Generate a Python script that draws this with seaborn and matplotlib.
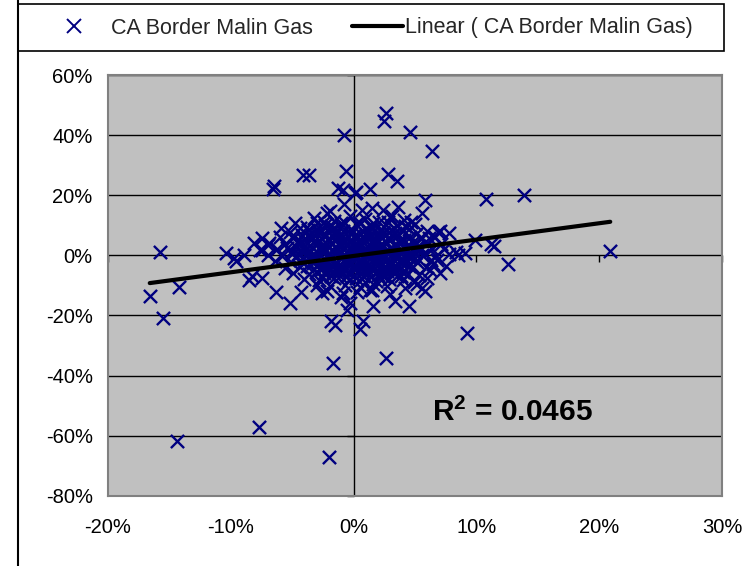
import numpy as np
import pandas as pd
import seaborn as sns
import matplotlib.pyplot as plt
import matplotlib.markers as mmarkers
from matplotlib.lines import Line2D
from matplotlib.patches import Rectangle
from matplotlib.ticker import PercentFormatter

# ---- data (percent units) ----
# scattered observations away from the main cloud
outer_x = [-16.6, -15.8, -15.5, -14.2, -14.4, -7.7, -2.0, -1.7, 2.6, 9.2,
           20.9, 13.9, 10.8, 12.6, 11.4, 11.2, 9.9, 9.1, 8.5, 7.8,
           6.9, 2.6, 2.5, 4.6, 6.4, -0.8, -0.6, 2.8, 3.5, -6.5,
           -6.6, -4.1, -3.6, -1.25, -0.9, 0.1, 1.3, 5.8, -0.8, -1.9,
           -2.2, -10.4, -9.7, -9.6, -8.9, -8.5, -8.1, -7.5, -6.3, -5.2,
           -4.3, -5.9, -4.8, -1.8, -1.5, 0.5, -0.5, -0.3, 1.6, 0.8,
           3.4, 4.5, 5.6, 4.9, 6.8, 6.2, 3.9, 2.4, 1.3, -1.0,
           -2.6, -7.5, -8.3, 0.2, 3.6, 5.6, 1.5, 2.4, 4.7, 7.0,
           6.1, 4.2, 0.7, 3.1, 5.3, 8.3, -3.0, -7.5, -7.0, -4.2,
           -2.6, -1.8, -0.7]
outer_y = [-13.4, 1.3, -20.8, -10.6, -61.8, -57.2, -67.2, -35.8, -34.0, -25.9,
           1.4, 20.1, 18.8, -2.7, 3.0, 3.9, 5.2, 0.9, 0.1, 7.6,
           7.9, 47.5, 44.7, 41.3, 34.7, 40.1, 28.0, 27.3, 24.9, 23.0,
           22.1, 26.9, 26.7, 22.5, 21.9, 20.7, 22.0, 18.6, 17.0, 14.7,
           14.1, 0.9, -0.9, -2.0, 0.3, -8.1, 4.1, 1.9, -12.3, -15.9,
           -12.3, 9.1, 10.8, -22.0, -23.1, -24.6, -18.1, -15.9, -17.0, -22.0,
           -15.3, -17.0, -10.9, -8.7, -1.4, -4.8, -7.0, -6.4, -11.4, -13.7,
           -12.5, -7.5, -7.0, 21.0, 16.3, 14.1, 15.8, 15.2, 11.3, 8.0,
           5.8, 9.7, 15.2, 13.0, 3.0, 1.3, 10.8, 5.8, 3.6, 6.9,
           8.0, 9.7, 10.8]

# the broad cloud around the origin
core_x = [-3.2, -1.6, -0.3, 0.9, 2.1, 3.0, 4.1,
          -3.8, -2.3, -1.0, 0.2, 1.4, 2.6, 3.5, 5.0,
          -5.2, -3.7, -2.0, -0.9, 0.5, 1.7, 2.9, 4.0, 5.2, 6.0,
          -6.0, -4.9, -3.4, -2.1, -0.9, 0.3, 1.4, 2.3, 3.5, 4.6, 5.5, 6.6,
          -6.9, -5.6, -4.3, -3.0, -1.8, -0.6, 0.5, 1.6, 2.6, 3.8, 4.9, 6.0, 7.1,
          -7.6, -6.2, -5.0, -3.8, -2.5, -1.3, -0.1, 1.0, 2.0, 3.1, 4.2, 5.3, 6.4, 7.4,
          -7.0, -5.8, -4.5, -3.3, -2.1, -0.9, 0.2, 1.2, 2.3, 3.4, 4.5, 5.6, 6.7, 7.8,
          -6.4, -5.1, -3.9, -2.7, -1.5, -0.3, 0.8, 1.9, 3.0, 4.1, 5.2, 6.3,
          -5.6, -4.4, -3.2, -2.0, -0.8, 0.4, 1.5, 2.6, 3.7, 4.8, 5.9,
          -4.9, -3.6, -2.4, -1.2, 0.0, 1.1, 2.2, 3.3, 4.4, 5.3,
          -4.0, -2.8, -1.6, -0.4, 0.7, 1.8, 2.9, 4.0,
          -3.0, -1.9, -0.7, 0.5, 1.6, 2.7,
          -2.2, -0.9, 0.3, 1.5,
          -3.0, -1.5, -0.2, 1.0, 2.0, 3.1,
          -4.0, -2.7, -1.4, -0.1, 0.9, 2.0, 3.0, 4.1,
          -4.8, -3.4, -2.0, -0.8, 0.4, 1.5, 2.5, 3.6, 4.6,
          -4.2, -2.9, -1.7, -0.5, 0.7, 1.8, 2.9, 4.0, 5.0,
          -3.6, -2.3, -1.0, 0.2, 1.3, 2.4, 3.5, 4.6,
          -2.9, -1.6, -0.3, 0.9, 2.0, 3.1, 4.2,
          -2.0, -0.8, 0.4, 1.6, 2.7]
core_y = [12.4, 11.6, 13.1, 12.0, 11.3, 12.7, 11.9,
          9.6, 10.3, 9.9, 10.6, 9.4, 10.1, 9.7, 10.4,
          7.7, 8.4, 7.9, 8.2, 7.5, 8.6, 7.8, 8.3, 7.6, 8.1,
          6.3, 5.8, 6.1, 5.6, 6.4, 5.9, 6.2, 5.7, 6.5, 6.0, 5.5, 6.2,
          4.2, 3.7, 4.4, 3.9, 4.1, 3.6, 4.3, 3.8, 4.5, 4.0, 3.7, 4.2, 3.9,
          1.8, 2.3, 1.6, 2.1, 2.4, 1.7, 2.2, 1.9, 2.5, 1.8, 2.2, 1.6, 2.0, 2.3,
          0.2, -0.3, 0.4, -0.1, 0.3, -0.4, 0.1, -0.2, 0.5, 0.0, -0.3, 0.2, -0.1, 0.4,
          -1.8, -2.3, -1.6, -2.1, -2.4, -1.7, -2.2, -1.9, -2.5, -1.8, -2.1, -1.6,
          -4.2, -3.7, -4.4, -3.9, -4.1, -3.6, -4.3, -3.8, -4.5, -4.0, -3.7,
          -5.8, -6.3, -6.0, -5.6, -6.4, -5.9, -6.2, -5.7, -6.1, -6.5,
          -7.8, -8.3, -7.6, -8.2, -7.9, -8.5, -7.7, -8.1,
          -9.7, -10.3, -9.9, -10.5, -9.6, -10.1,
          -11.8, -12.4, -12.1, -11.6,
          7.0, 6.8, 7.3, 6.9, 7.2, 6.7,
          5.1, 4.8, 5.2, 4.9, 5.3, 4.7, 5.0, 5.2,
          3.1, 2.8, 3.2, 2.9, 3.3, 2.7, 3.0, 3.2, 2.8,
          1.1, 0.8, 1.2, 0.9, 1.3, 0.7, 1.0, 1.2, 0.8,
          -0.9, -1.2, -0.8, -1.1, -0.7, -1.3, -1.0, -0.8,
          -3.1, -2.8, -3.2, -2.9, -3.3, -2.7, -3.0,
          -5.0, -4.8, -5.2, -4.9, -5.1]

# the most crowded part of the cloud
dense_x = [-3.7, -2.4, -1.1, 0.1, 1.3, 2.4, 3.6,
           -4.6, -3.3, -2.0, -0.8, 0.4, 1.5, 2.6, 3.7, 4.8,
           -5.4, -4.1, -2.8, -1.5, -0.3, 0.9, 2.0, 3.1, 4.2, 5.2,
           -5.0, -3.7, -2.5, -1.2, 0.0, 1.2, 2.4, 3.5, 4.6, 5.8,
           -4.4, -3.1, -1.9, -0.7, 0.5, 1.6, 2.7, 3.8, 4.9,
           -3.8, -2.5, -1.2, 0.0, 1.2, 2.3, 3.4, 4.5,
           -3.1, -1.7, -0.4, 0.8, 2.0, 3.2, 4.0,
           -2.5, -1.1, 0.2, 1.4, 2.5, 3.5,
           5.2, 6.0, 7.0, 5.8, 4.2, 3.0, 6.5, 7.5,
           -2.4, -1.0, 0.4, 1.6, 2.8,
           -4.4, -3.0, -1.6, -0.2, 1.0, 2.2, 3.3, 4.5,
           -2.9, -1.5, -0.1, 1.2, 2.4, 3.4,
           -3.4, -2.1, -0.8, 0.5, 1.7, 2.8, 3.9,
           -4.2, -2.6, -1.3, 0.0, 1.1, 2.2, 3.3, 4.4,
           -3.6, -2.3, -1.0, 0.3, 1.5, 2.6, 3.7, 4.8,
           -3.0, -1.8, -0.5, 0.8, 1.9, 3.0, 4.1,
           -3.3, -2.0, -0.7, 0.5, 1.7, 2.8, 3.9,
           -2.6, -1.3, 0.0, 1.2, 2.3, 3.4,
           -1.8, -0.5, 0.8, 2.0]
dense_y = [6.6, 6.9, 6.5, 6.8, 6.6, 7.0, 6.7,
           4.6, 4.5, 4.8, 4.6, 4.4, 4.7, 4.5, 4.8, 4.6,
           2.6, 2.7, 2.5, 2.8, 2.6, 2.4, 2.7, 2.6, 2.5, 2.8,
           0.6, 0.5, 0.8, 0.6, 0.4, 0.7, 0.6, 0.5, 0.8, 0.6,
           -1.4, -1.5, -1.3, -1.6, -1.4, -1.2, -1.5, -1.4, -1.3,
           -3.4, -3.5, -3.3, -3.6, -3.4, -3.2, -3.5, -3.4,
           -5.5, -5.4, -5.7, -5.5, -5.3, -5.6, -5.5,
           -7.2, -7.0, -7.4, -7.1, -7.3, -7.0,
           -9.5, -7.5, -6.0, -12.0, -11.0, -12.8, -3.0, -3.5,
           11.0, 10.8, 11.2, 10.9, 11.1,
           9.0, 8.8, 9.2, 8.9, 9.1, 8.7, 9.3, 8.9,
           7.9, 7.6, 8.0, 7.7, 7.9, 7.5,
           5.4, 5.6, 5.3, 5.5, 5.4, 5.7, 5.3,
           3.5, 3.4, 3.7, 3.5, 3.3, 3.6, 3.4, 3.5,
           1.4, 1.5, 1.3, 1.6, 1.4, 1.2, 1.5, 1.4,
           -0.5, -0.6, -0.4, -0.7, -0.5, -0.3, -0.6,
           -2.6, -2.8, -2.5, -2.7, -2.6, -2.9, -2.5,
           -4.6, -4.7, -4.5, -4.8, -4.6, -4.4,
           -6.8, -6.7, -6.9, -6.6]

# linear trend fitted to the series and its goodness of fit
trend_slope = 0.545
trend_intercept = -0.0015
r_squared = 0.0465

series_name = "CA Border Malin Gas"
x_ticks = [-0.2, -0.1, 0.0, 0.1, 0.2, 0.3]
y_ticks = [-0.8, -0.6, -0.4, -0.2, 0.0, 0.2, 0.4, 0.6]

df = pd.DataFrame({
    "x": np.array(outer_x + core_x + dense_x) / 100.0,
    "y": np.array(outer_y + core_y + dense_y) / 100.0,
})

# ---- styling ----
sns.set_theme(style="white")
plt.rcParams["font.family"] = ["Liberation Sans", "DejaVu Sans"]
plt.rcParams["axes.unicode_minus"] = False
plt.rcParams["mathtext.fontset"] = "custom"
plt.rcParams["mathtext.rm"] = "Liberation Sans"
plt.rcParams["mathtext.bf"] = "Liberation Sans:bold"

W, H = 746, 566
fig = plt.figure(figsize=(W / 100, H / 100), dpi=100)
fig.patch.set_facecolor("white")
ax = fig.add_axes([108 / W, 1 - 495.5 / H, (722 - 108) / W, (495.5 - 75.5) / H])
ax.set_facecolor("#C0C0C0")

navy = "#000080"
sns.scatterplot(data=df, x="x", y="y", marker="x", color=navy, s=90,
                linewidth=1.7, ax=ax, legend=False, zorder=3)

# trend line over the span of the observations
xs = np.array([df["x"].min(), df["x"].max()])
ax.plot(xs, trend_slope * xs + trend_intercept, color="black", lw=3.0,
        solid_capstyle="round", zorder=4)

ax.set_xlim(x_ticks[0], x_ticks[-1])
ax.set_ylim(y_ticks[0], y_ticks[-1])
ax.set_xticks(x_ticks)
ax.set_yticks(y_ticks)
ax.xaxis.set_major_formatter(PercentFormatter(1.0, decimals=0))
ax.yaxis.set_major_formatter(PercentFormatter(1.0, decimals=0))
ax.set_xlabel("")
ax.set_ylabel("")
ax.tick_params(axis="both", length=0, labelsize=14.5, colors="black")
ax.tick_params(axis="x", pad=16)
ax.tick_params(axis="y", pad=11)

ax.yaxis.grid(True, color="black", lw=1.0)
ax.xaxis.grid(False)
ax.set_axisbelow(True)
for sp in ax.spines.values():
    sp.set_color("#808080")
    sp.set_linewidth(1.5)

# value axis crossing at x = 0 and category ticks on y = 0
ax.axvline(0, color="black", lw=1.0, zorder=1.5)
ax.plot(np.zeros(len(y_ticks)), y_ticks, ls="none", marker=mmarkers.TICKLEFT,
        ms=5, mew=1, color="black", clip_on=False, zorder=1.5)
ax.plot(x_ticks, np.zeros(len(x_ticks)), ls="none", marker=mmarkers.TICKDOWN,
        ms=5, mew=1, color="black", clip_on=False, zorder=1.5)

ax.text(0.064, -0.524, r"$\mathbf{R^{2}}$" + f" = {r_squared}", fontsize=21.5,
        fontweight="bold", ha="left", va="center", color="black", zorder=5)

# legend strip across the top: one entry per series
leg_kw = dict(loc="center left", frameon=False, fontsize=15.5, borderpad=0,
              borderaxespad=0)
leg1 = fig.legend([Line2D([], [], marker="x", ls="none", color=navy, ms=9.5, mew=1.4)],
                  [series_name], bbox_to_anchor=(52 / W, 1 - 28 / H),
                  handlelength=2.0, handletextpad=0.75, **leg_kw)
leg2 = fig.legend([Line2D([], [], color="black", lw=3.0)],
                  [f"Linear ( {series_name})"], bbox_to_anchor=(352 / W, 1 - 28 / H),
                  handlelength=2.35, handletextpad=0.1, **leg_kw)
fig.patches.append(Rectangle((18 / W, 1 - 51 / H), (724 - 18) / W, 47 / H,
                             transform=fig.transFigure, fill=False,
                             edgecolor="black", lw=1.2))
fig.lines.append(Line2D([18 / W, 18 / W], [0, 1], transform=fig.transFigure,
                        color="black", lw=1.5))

fig.savefig("out.png", dpi=100)
